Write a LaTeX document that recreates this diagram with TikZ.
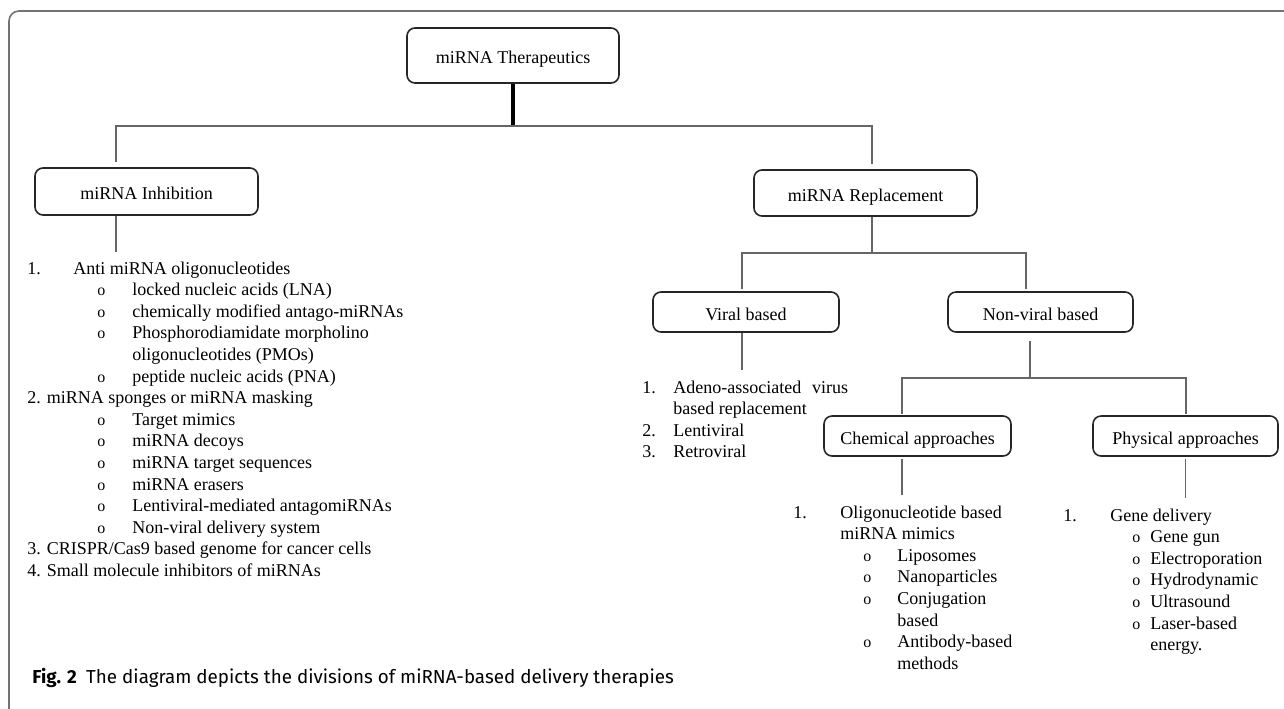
\documentclass[tikz,border=0pt]{standalone}
\usepackage{fontspec}
\setmainfont{Liberation Serif}
\newfontfamily\capfont{Fira Sans}

\newcommand{\itm}[3]{\makebox[#1][l]{#2}#3}
\newcommand{\bul}[1]{\hspace*{\bi}\makebox[\bw][l]{\fontsize{8}{8}\selectfont o}#1}

\begin{document}
\begin{tikzpicture}[x=0.5pt,y=-0.5pt,
  box/.style={draw=black!85,line width=0.8pt,rounded corners=4pt,inner sep=0pt,
    text height=8pt,text depth=0pt,font=\fontsize{9}{10.8}\selectfont},
  link/.style={draw=black!60,line width=0.6pt},
  list/.style={inner sep=0pt,anchor=base west,font=\fontsize{9}{10.8}\selectfont}]
\useasboundingbox (0,0) rectangle (1284,708);

% frame of the figure, open at right and bottom
\draw[draw=black!55,line width=0.8pt,rounded corners=5pt] (9,720) -- (9,11) -- (1300,11);

\node[box,minimum width=106pt,minimum height=27.5pt] (ther) at (513,55.5) {miRNA Therapeutics};
\node[box,minimum width=111.5pt,minimum height=23.5pt] (inhib) at (146.5,191.5) {miRNA Inhibition};
\node[box,minimum width=111.5pt,minimum height=23pt] (repl) at (865.5,193) {miRNA Replacement};
\node[box,minimum width=93pt,minimum height=20pt] (viral) at (746,312) {Viral based};
\node[box,minimum width=92.5pt,minimum height=20pt] (nonviral) at (1040.5,312) {Non-viral based};
\node[box,minimum width=93.5pt,minimum height=20pt] (chem) at (917.5,436) {Chemical approaches};
\node[box,minimum width=92.5pt,minimum height=20pt] (phys) at (1185.5,436) {Physical approaches};

\node[list] (inhlist) at (27,274) {\def\bi{35pt}\def\bw{17.5pt}%
\begin{tabular}[t]{@{}l@{}}
\itm{23pt}{1.}{Anti miRNA oligonucleotides}\\
\bul{locked nucleic acids (LNA)}\\
\bul{chemically modified antago-miRNAs}\\
\bul{Phosphorodiamidate morpholino}\\
\hspace*{52.5pt}oligonucleotides (PMOs)\\
\bul{peptide nucleic acids (PNA)}\\
2. miRNA sponges or miRNA masking\\
\bul{Target mimics}\\
\bul{miRNA decoys}\\
\bul{miRNA target sequences}\\
\bul{miRNA erasers}\\
\bul{Lentiviral-mediated antagomiRNAs}\\
\bul{Non-viral delivery system}\\
3. CRISPR/Cas9 based genome for cancer cells\\
4. Small molecule inhibitors of miRNAs
\end{tabular}};

\node[list] (virlist) at (642,393) {%
\begin{tabular}[t]{@{}l@{}}
\itm{15.5pt}{1.}{Adeno-associated\hspace{0.6em}virus}\\
\hspace*{15.5pt}based replacement\\
\itm{15.5pt}{2.}{Lentiviral}\\
\itm{15.5pt}{3.}{Retroviral}
\end{tabular}};

\node[list] (chemlist) at (793,518) {\def\bi{35pt}\def\bw{17pt}%
\begin{tabular}[t]{@{}l@{}}
\itm{23.5pt}{1.}{Oligonucleotide based}\\
\hspace*{23.5pt}miRNA mimics\\
\bul{Liposomes}\\
\bul{Nanoparticles}\\
\bul{Conjugation}\\
\hspace*{52pt}based\\
\bul{Antibody-based}\\
\hspace*{52pt}methods
\end{tabular}};

\node[list] (physlist) at (1063,521) {\def\bi{34.5pt}\def\bw{9pt}%
\begin{tabular}[t]{@{}l@{}}
\itm{23.5pt}{1.}{Gene delivery}\\
\bul{Gene gun}\\
\bul{Electroporation}\\
\bul{Hydrodynamic}\\
\bul{Ultrasound}\\
\bul{Laser-based}\\
\hspace*{43.5pt}energy.
\end{tabular}};

\coordinate (jl) at (116,126);
\coordinate (jr) at (872,126);
\coordinate (jv) at (742,253);
\coordinate (jn) at (1026,253);
\coordinate (jnv) at (1030,378);
\coordinate (jc) at (902,378);
\coordinate (jp) at (1186,378);

\draw[line width=2pt] (ther.south) -- (ther.south |- jl);
\draw[link,shorten <=2.5pt,shorten >=2.5pt] (jl |- inhib.north) -- (jl) -- (jr) -- (jr |- repl.north);
\draw[link,shorten >=3pt] (jl |- inhib.south) -- (jl |- inhlist.north);
\draw[link] (jr |- repl.south) -- (jr |- jv);
\draw[link,shorten <=1pt,shorten >=1pt] (jv |- viral.north) -- (jv) -- (jn) -- (jn |- nonviral.north);
\draw[link,shorten >=3.5pt] (jv |- viral.south) -- (jv |- virlist.north);
\draw[link,shorten <=4pt] (jnv |- nonviral.south) -- (jnv);
\draw[link,shorten <=0.5pt,shorten >=0.5pt] (jc |- chem.north) -- (jc) -- (jp) -- (jp |- phys.north);
\draw[link,shorten <=1pt,shorten >=3.5pt] (jc |- chem.south) -- (jc |- chemlist.north);
\draw[link,shorten <=1pt,shorten >=3.5pt] (phys.south) -- (phys.south |- physlist.north);

\node[anchor=base west,inner sep=0pt,font=\capfont\fontsize{9.4}{11}\selectfont] (cap) at (32,683)
  {\textbf{Fig. 2}\enspace The diagram depicts the divisions of miRNA-based delivery therapies};
\end{tikzpicture}
\end{document}
